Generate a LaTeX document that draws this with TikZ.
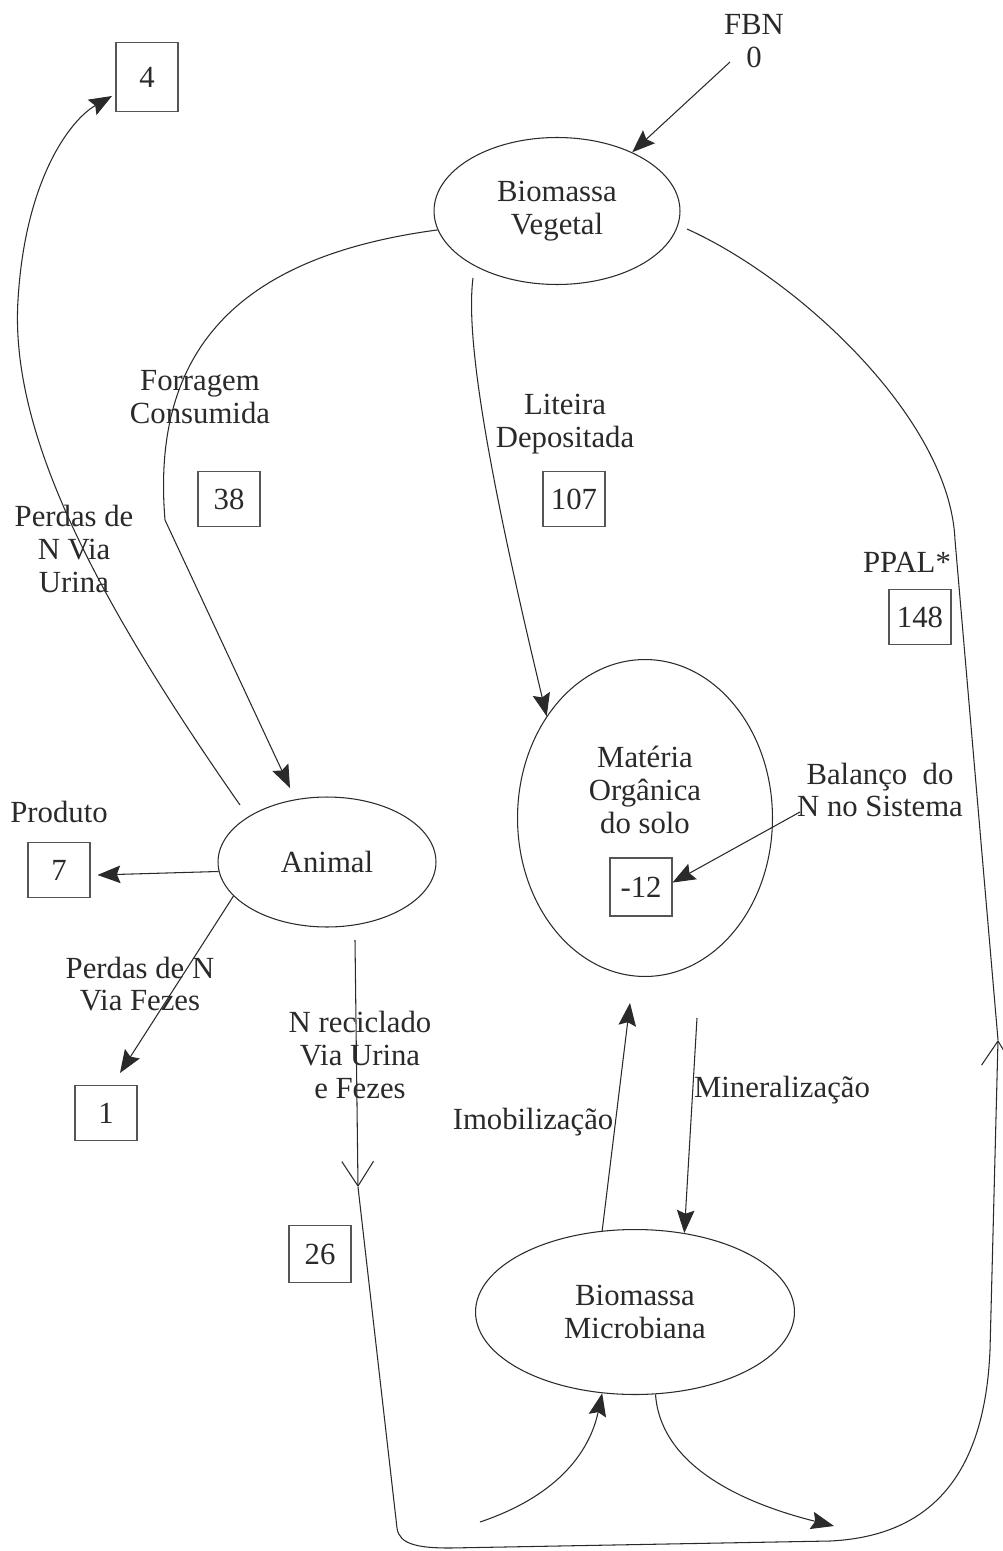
\documentclass[tikz,border=0pt]{standalone}
\usepackage{fontspec}
\setmainfont{Liberation Serif}
\usetikzlibrary{arrows.meta,shapes.geometric,calc}
\definecolor{ink}{HTML}{2A2A2A}
\definecolor{boxline}{HTML}{555555}
\begin{document}
\begin{tikzpicture}[x=0.02cm,y=-0.02cm,
  every node/.style={text=ink,font=\fontsize{17.5}{18.7}\selectfont,align=center,inner sep=0pt},
  oval/.style={draw=ink,line width=0.6pt,ellipse,inner sep=0pt},
  valbox/.style={draw=boxline,line width=0.6pt,minimum width=1.24cm,minimum height=1.1cm},
  flow/.style={draw=ink,line width=0.6pt},
  farrow/.style={flow,-{Stealth[length=13pt,width=10pt,inset=2pt]}},
  barb/.style={flow,-{Straight Barb[length=14pt,width=18pt,line width=0.6pt]}}]
\fill[white] (0,0) rectangle (1003,1551);
\useasboundingbox (0,0) rectangle (1003,1551);

% ellipses
\node[oval,minimum width=4.92cm,minimum height=2.94cm] (bv) at (557,211) {Biomassa\\Vegetal};
\node[oval,minimum width=4.36cm,minimum height=2.6cm] (an) at (327,862) {Animal};
\node[oval,minimum width=5.1cm,minimum height=6.34cm] (mo) at (645,818) {};
\node (motx) at (645,790) {Matéria\\Orgânica\\do solo};
\node[oval,minimum width=6.38cm,minimum height=3.3cm] (mb) at (635,1312) {Biomassa\\Microbiana};

% value boxes
\node[valbox,minimum height=1.38cm] (b4) at (147,77) {4};
\node[valbox] (b38) at (229,499) {38};
\node[valbox] (b107) at (574,499) {107};
\node[valbox] (b148) at (920,617) {148};
\node[valbox,minimum height=1.16cm] (b12) at (641,887) {-12};
\node[valbox] (b7) at (59,870) {7};
\node[valbox] (b1) at (106,1113) {1};
\node[valbox,minimum height=1.14cm] (b26) at (320,1254) {26};

% labels
\node (fbn) at (754,41) {FBN\\0};
\node (forr) at (200,397) {Forragem\\Consumida};
\node (purina) at (74,549) {Perdas de\\N Via\\Urina};
\node (lit) at (565,424) {Liteira\\Depositada};
\node (ppal) at (907,562) {PPAL*};
\node (bal) at (880,790) {Balanço\ \ do\\N no Sistema};
\node (prod) at (59,812) {Produto};
\node (pfez) at (140,984) {Perdas de N\\Via Fezes};
\node (nrec) at (360,1055) {N reciclado\\Via Urina\\e Fezes};
\node (imob) at (533,1122) {Imobilização};
\node (miner) at (782,1090) {Mineralização};

% free ends
\coordinate (fbnS) at (730,62);
\coordinate (balS) at (800,812);
\coordinate (imoT) at (630,1003);
\coordinate (minS) at (697,1018);
\coordinate (nrS) at (355,940);
\coordinate (nrM) at (358,1187);
\coordinate (rA) at (998,1040);
\coordinate (bl) at (397,1528);
\coordinate (litS) at (473,278);
\coordinate (rvE) at (687,229);
\coordinate (urS) at (240,805);
\coordinate (forT) at (290,788);
\coordinate (b4T) at (112,96);
\coordinate (mbIn) at (480,1522);
\coordinate (mbOutT) at (834,1526);

% connectors
\draw[farrow] (fbnS) -- (bv.38);
\draw[farrow] (bv.189) .. controls (250,255) and (150,340) .. (165,520) -- (forT);
\draw[farrow] (litS) .. controls (465,340) and (490,480) .. (mo.134);
\draw[flow] (rA) -- (955,540) .. controls (950,420) and (800,280) .. (rvE);
\draw[farrow] (urS) .. controls (90,590) and (10,430) .. (18,300) .. controls (25,180) and (70,120) .. (b4T);
\draw[farrow] (an.185) -- ($(b7.east)+(7,5)$);
\draw[farrow] (an.200) -- ($(b1.north)+(14,-12)$);
\draw[barb] (nrS) -- (nrM);
\draw[barb] (nrM) -- (bl) .. controls (399,1545) and (420,1548) .. (450,1548) -- (830,1541) .. controls (935,1536) and (985,1470) .. (990,1350) -- (rA);
\draw[farrow] (balS) -- (b12.8);
\draw[farrow] (mb.112) -- (imoT);
\draw[farrow] (minS) -- (mb.58);
\draw[farrow] (mbIn) .. controls (560,1495) and (590,1450) .. (mb.248);
\draw[farrow] (mb.-76) .. controls (660,1460) and (730,1500) .. (mbOutT);
\end{tikzpicture}
\end{document}
